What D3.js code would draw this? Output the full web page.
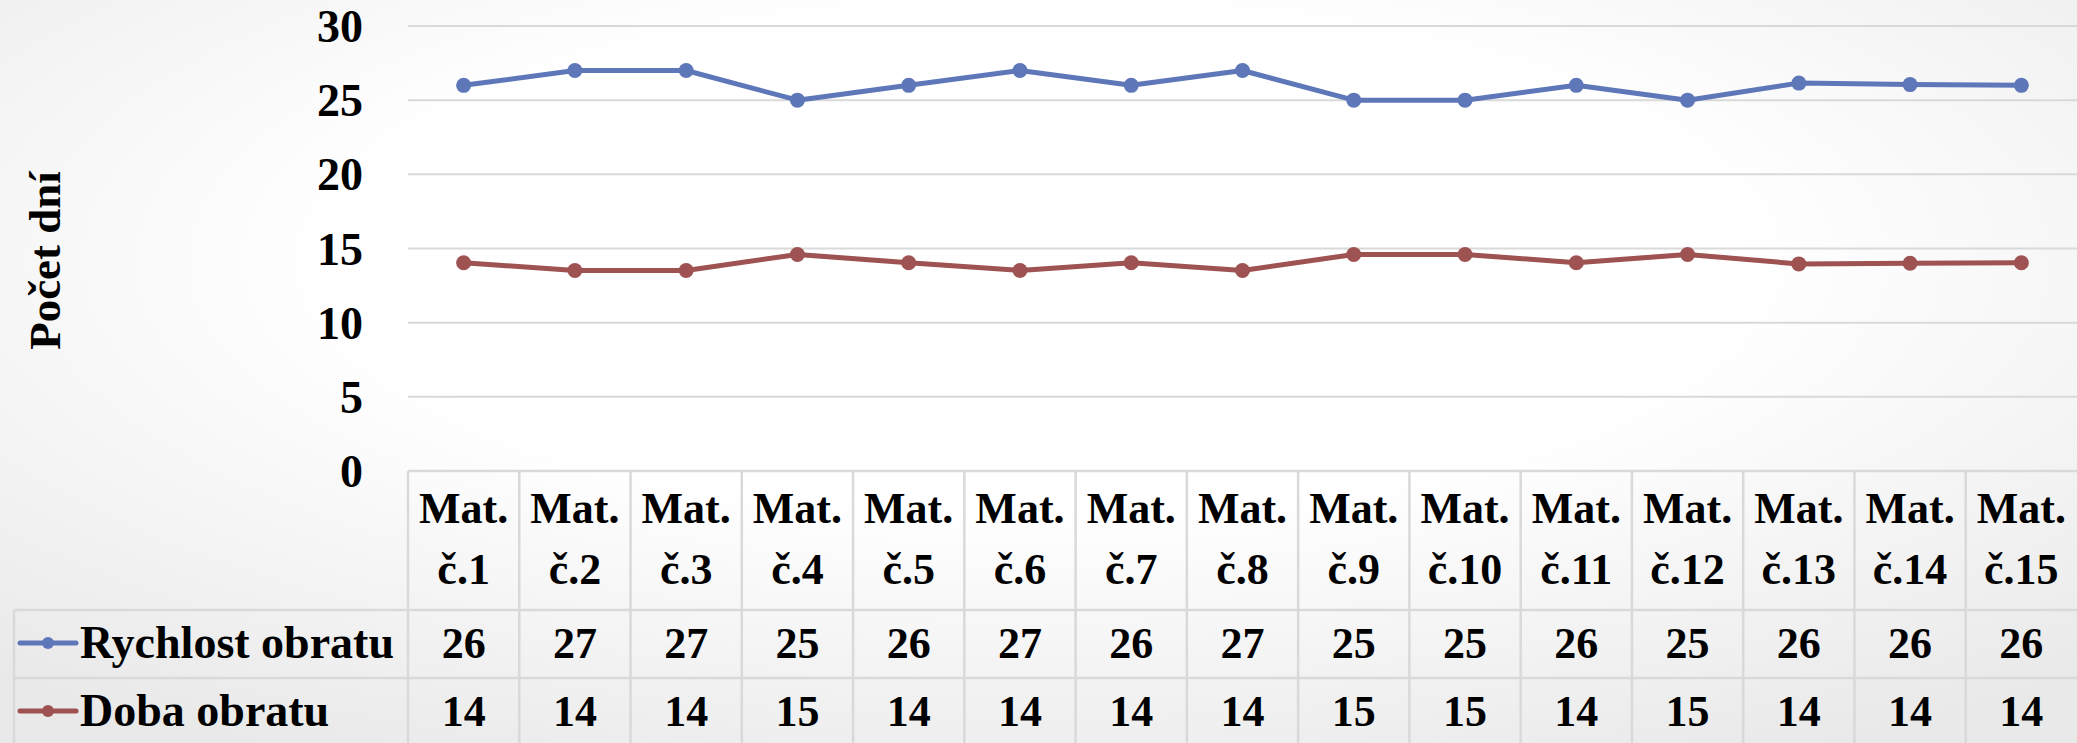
<!DOCTYPE html>
<html>
<head>
<meta charset="utf-8">
<script src="https://cdn.jsdelivr.net/npm/d3@7"></script>
<style>
  body { margin: 0; overflow: hidden; }
  svg text { font-family: "Liberation Serif", "Times New Roman", serif; font-weight: bold; fill: #000; }
</style>
</head>
<body>
<svg id="chart" width="2077" height="743"></svg>
<script>
//// DATA

// category labels (two lines in the table header)
const categories = ["Mat. č.1", "Mat. č.2", "Mat. č.3", "Mat. č.4", "Mat. č.5",
  "Mat. č.6", "Mat. č.7", "Mat. č.8", "Mat. č.9", "Mat. č.10",
  "Mat. č.11", "Mat. č.12", "Mat. č.13", "Mat. č.14", "Mat. č.15"]

// plotted values (unrounded)
const rychlostValues = [26, 27, 27, 25, 26, 27, 26, 27, 25, 25, 26, 25, 26.15, 26.05, 26.0]
const dobaValues = [14.04, 13.52, 13.52, 14.6, 14.04, 13.52, 14.04, 13.52, 14.6, 14.6, 14.04, 14.6, 13.96, 14.01, 14.04]

// values shown in the data table
const rychlostTable = [26, 27, 27, 25, 26, 27, 26, 27, 25, 25, 26, 25, 26, 26, 26]
const dobaTable = [14, 14, 14, 15, 14, 14, 14, 14, 15, 15, 14, 15, 14, 14, 14]

const yTicks = [0, 5, 10, 15, 20, 25, 30]
const yTitle = "Počet dní"

const series = [
  { name: "Rychlost obratu", values: rychlostValues, table: rychlostTable, color: "#5e77b8" },
  { name: "Doba obratu", values: dobaValues, table: dobaTable, color: "#9e5252" }
]

//// LAYOUT

const W = 2077, H = 743
const plotLeft = 408, plotRight = 2077
const plotTop = 26, plotBottom = 471
const headerBottom = 610
const rowH = 68
const legendLeft = 14
const gridColor = "#d9d9d9"
const fontSize = 44

const svg = d3.select("#chart")

// background: soft gray edges, white centre
const defs = svg.append("defs")
const grad = defs.append("radialGradient")
  .attr("id", "bg")
  .attr("cx", "0.5").attr("cy", "0.35").attr("r", "0.75")
grad.append("stop").attr("offset", "0%").attr("stop-color", "#ffffff")
grad.append("stop").attr("offset", "45%").attr("stop-color", "#ffffff")
grad.append("stop").attr("offset", "100%").attr("stop-color", "#e9e9e9")
svg.append("rect").attr("width", W).attr("height", H).attr("fill", "url(#bg)")

const x = d3.scaleBand()
  .domain(categories)
  .range([plotLeft, plotRight])
  .padding(0)
const cx = c => x(c) + x.bandwidth() / 2

const y = d3.scaleLinear()
  .domain([0, 30])
  .range([plotBottom, plotTop])

// gridlines
svg.append("g")
  .selectAll("line")
  .data(yTicks.filter(t => t > 0))
  .join("line")
  .attr("x1", plotLeft).attr("x2", plotRight)
  .attr("y1", d => y(d)).attr("y2", d => y(d))
  .attr("stroke", gridColor)
  .attr("stroke-width", 2)

// y axis labels
const yAxis = svg.append("g")
  .attr("transform", `translate(${plotLeft - 45},0)`)
  .call(d3.axisLeft(y).tickValues(yTicks).tickSize(0).tickPadding(0))
yAxis.select(".domain").remove()
yAxis.selectAll("text")
  .attr("x", 0)
  .attr("dy", "0.34em")
  .style("font-size", "46px")
  .style("font-family", "'Liberation Serif', serif")
  .style("font-weight", "bold")

// y axis title
svg.append("text")
  .attr("transform", `translate(60,${(plotTop + plotBottom) / 2 + 12}) rotate(-90)`)
  .attr("text-anchor", "middle")
  .style("font-size", "45px")
  .text(yTitle)

// data table
const table = svg.append("g")
const tableBottom = headerBottom + rowH * series.length

// horizontal rules
table.append("line")
  .attr("x1", plotLeft).attr("x2", plotRight)
  .attr("y1", plotBottom).attr("y2", plotBottom)
  .attr("stroke", gridColor).attr("stroke-width", 2.5)
table.selectAll(".hrow")
  .data(d3.range(series.length + 1))
  .join("line")
  .attr("class", "hrow")
  .attr("x1", legendLeft).attr("x2", plotRight)
  .attr("y1", i => headerBottom + i * rowH).attr("y2", i => headerBottom + i * rowH)
  .attr("stroke", gridColor).attr("stroke-width", 2.5)

// vertical rules
table.selectAll(".vcol")
  .data(categories)
  .join("line")
  .attr("class", "vcol")
  .attr("x1", d => x(d)).attr("x2", d => x(d))
  .attr("y1", plotBottom).attr("y2", tableBottom)
  .attr("stroke", gridColor).attr("stroke-width", 2.5)
table.append("line")
  .attr("x1", legendLeft).attr("x2", legendLeft)
  .attr("y1", headerBottom).attr("y2", tableBottom)
  .attr("stroke", gridColor).attr("stroke-width", 2.5)

// header labels (two lines)
const header = table.selectAll(".hdr")
  .data(categories)
  .join("text")
  .attr("class", "hdr")
  .attr("text-anchor", "middle")
  .style("font-size", fontSize + "px")
header.append("tspan")
  .attr("x", cx).attr("y", 523)
  .text(d => d.split(" ")[0])
header.append("tspan")
  .attr("x", cx).attr("y", 584)
  .text(d => d.split(" ")[1])

// table rows
series.forEach((s, si) => {
  const rowMid = headerBottom + rowH * si + rowH / 2

  table.selectAll(".val" + si)
    .data(s.table)
    .join("text")
    .attr("class", "val" + si)
    .attr("x", (d, i) => cx(categories[i]))
    .attr("y", rowMid + 14)
    .attr("text-anchor", "middle")
    .style("font-size", fontSize + "px")
    .text(d => d)

  // legend key
  table.append("line")
    .attr("x1", legendLeft + 6).attr("x2", legendLeft + 62)
    .attr("y1", rowMid - 1).attr("y2", rowMid - 1)
    .attr("stroke", s.color).attr("stroke-width", 5).attr("stroke-linecap", "round")
  table.append("circle")
    .attr("cx", legendLeft + 34).attr("cy", rowMid - 1).attr("r", 6)
    .attr("fill", s.color)
  table.append("text")
    .attr("x", legendLeft + 66)
    .attr("y", rowMid + 14)
    .style("font-size", "46px")
    .text(s.name)
})

// lines and markers
const line = d3.line()
  .x((d, i) => cx(categories[i]))
  .y(d => y(d))

series.forEach(s => {
  svg.append("path")
    .datum(s.values)
    .attr("d", line)
    .attr("fill", "none")
    .attr("stroke", s.color)
    .attr("stroke-width", 5)
    .attr("stroke-linejoin", "round")

  svg.append("g")
    .selectAll("circle")
    .data(s.values)
    .join("circle")
    .attr("cx", (d, i) => cx(categories[i]))
    .attr("cy", d => y(d))
    .attr("r", 7.5)
    .attr("fill", s.color)
})
</script>
</body>
</html>
